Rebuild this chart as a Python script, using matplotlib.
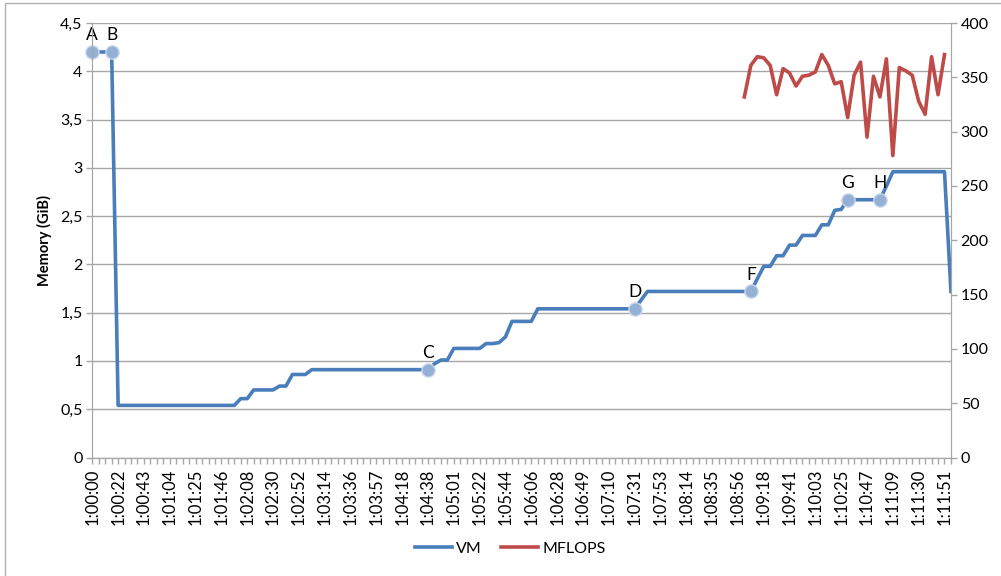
import matplotlib
matplotlib.use("agg")
import matplotlib.pyplot as plt
from matplotlib.patches import Rectangle
from matplotlib.ticker import FuncFormatter

# VM memory (GiB), one value per sample
VM = [
	4.20, 4.20, 4.20, 4.20,
	0.54, 0.54, 0.54, 0.54, 0.54, 0.54, 0.54, 0.54, 0.54, 0.54,
	0.54, 0.54, 0.54, 0.54, 0.54, 0.54, 0.54, 0.54, 0.54,
	0.61, 0.61, 0.70, 0.70, 0.70, 0.70, 0.74, 0.74, 0.86, 0.86, 0.86,
	0.91, 0.91, 0.91, 0.91, 0.91, 0.91, 0.91, 0.91, 0.91, 0.91,
	0.91, 0.91, 0.91, 0.91, 0.91, 0.91, 0.91, 0.91, 0.91,
	0.97, 1.01, 1.01, 1.13, 1.13, 1.13, 1.13, 1.13, 1.18, 1.18, 1.19, 1.25,
	1.41, 1.41, 1.41, 1.41,
	1.54, 1.54, 1.54, 1.54, 1.54, 1.54, 1.54, 1.54,
	1.54, 1.54, 1.54, 1.54, 1.54, 1.54, 1.54, 1.54,
	1.63,
	1.72, 1.72, 1.72, 1.72, 1.72, 1.72, 1.72, 1.72, 1.72,
	1.72, 1.72, 1.72, 1.72, 1.72, 1.72, 1.72, 1.72,
	1.85, 1.98, 1.98, 2.09, 2.09, 2.20, 2.20, 2.30, 2.30, 2.30,
	2.41, 2.41, 2.56, 2.57,
	2.67, 2.67, 2.67, 2.67, 2.67, 2.67,
	2.81, 2.96, 2.96, 2.96, 2.96, 2.96, 2.96, 2.96, 2.96, 2.96,
	1.72,
]

# MFLOPS, starts at sample 101
MFLOPS_START = 101
MFLOPS = [
	332, 361, 369, 368, 361, 334, 358, 354, 342, 351, 352, 355, 371, 361, 344, 346,
	313, 352, 364, 295, 351, 332, 367, 278, 359, 356, 352, 328, 316, 369, 334, 371,
]

TIME_LABELS = [
	"1:00:00", "1:00:22", "1:00:43", "1:01:04", "1:01:25", "1:01:46", "1:02:08",
	"1:02:30", "1:02:52", "1:03:14", "1:03:36", "1:03:57", "1:04:18", "1:04:38",
	"1:05:01", "1:05:22", "1:05:44", "1:06:06", "1:06:28", "1:06:49", "1:07:10",
	"1:07:31", "1:07:53", "1:08:14", "1:08:35", "1:08:56", "1:09:18", "1:09:41",
	"1:10:03", "1:10:25", "1:10:47", "1:11:09", "1:11:30", "1:11:51",
]
LABEL_STEP = 4

# Marked points: letter and sample index
MARK_NAMES = ["A", "B", "C", "D", "F", "G", "H"]
MARK_IDX   = [0, 3, 52, 84, 102, 117, 122]

BLUE   = "#4A7EBB"
RED    = "#BE4B48"
GRID   = "#A6A6A6"
MARKER = "#95B0D5"

plt.rcParams["font.family"] = ["Lato", "DejaVu Sans"]

fig = plt.figure(figsize=(10.01, 5.76), dpi=100)
ax = fig.add_axes([0.0922, 0.2057, 0.8578, 0.7543])
ax2 = ax.twinx()

x = list(range(len(VM)))
ax.plot(x, VM, color=BLUE, lw=2.6, solid_joinstyle="round", zorder=3)
x2 = list(range(MFLOPS_START, MFLOPS_START + len(MFLOPS)))
ax2.plot(x2, MFLOPS, color=RED, lw=2.6, solid_joinstyle="round", zorder=3)

# Marked points with letters
for name, i in zip(MARK_NAMES, MARK_IDX):
	ax.plot(i, VM[i], "o", ms=9.5, mfc=MARKER, mec="#C8D6EA", mew=1, zorder=4, clip_on=False)
	ax.annotate(name, (i, VM[i]), xytext=(0, 12), textcoords="offset points",
		ha="center", va="center", fontsize=12.5, color="black", zorder=5)

ax.set_xlim(0, len(VM) - 1)
ax.set_ylim(0, 4.5)
ax2.set_ylim(0, 400)
ax.set_yticks([i * 0.5 for i in range(10)])
ax2.set_yticks(range(0, 401, 50))
ax.yaxis.set_major_formatter(FuncFormatter(lambda v, p: ("%g" % v).replace(".", ",")))

ax.set_xticks(range(0, len(VM), LABEL_STEP))
ax.set_xticklabels(TIME_LABELS, rotation=90)
ax.set_xticks(range(len(VM)), minor=True)

ax.grid(axis="y", color=GRID, lw=1)
ax.set_axisbelow(True)
for a in (ax, ax2):
	a.spines["top"].set_visible(False)
	for s in ("left", "right", "bottom"):
		a.spines[s].set_color(GRID)
	a.tick_params(which="both", color=GRID, length=4, width=1, labelsize=11.5, pad=3)
ax.tick_params(axis="x", which="minor", length=4)
ax.tick_params(axis="x", which="major", labelsize=12, pad=4)

ax.set_ylabel("Memory (GiB)", fontsize=10.5, fontweight="bold", labelpad=6)

handles = [plt.Line2D([], [], color=BLUE, lw=2.6), plt.Line2D([], [], color=RED, lw=2.6)]
fig.legend(handles, ["VM", "MFLOPS"], loc="center", bbox_to_anchor=(0.51, 0.047), ncol=2,
	frameon=False, fontsize=11.5, handlelength=2.3, columnspacing=1.2, handletextpad=0.3)

# Chart area border
fig.patches.append(Rectangle((0.005, -0.1), 1.2, 1.0948, transform=fig.transFigure,
	fill=False, edgecolor="#B0B0B0", lw=1))

plt.savefig("out.png", dpi=100)
